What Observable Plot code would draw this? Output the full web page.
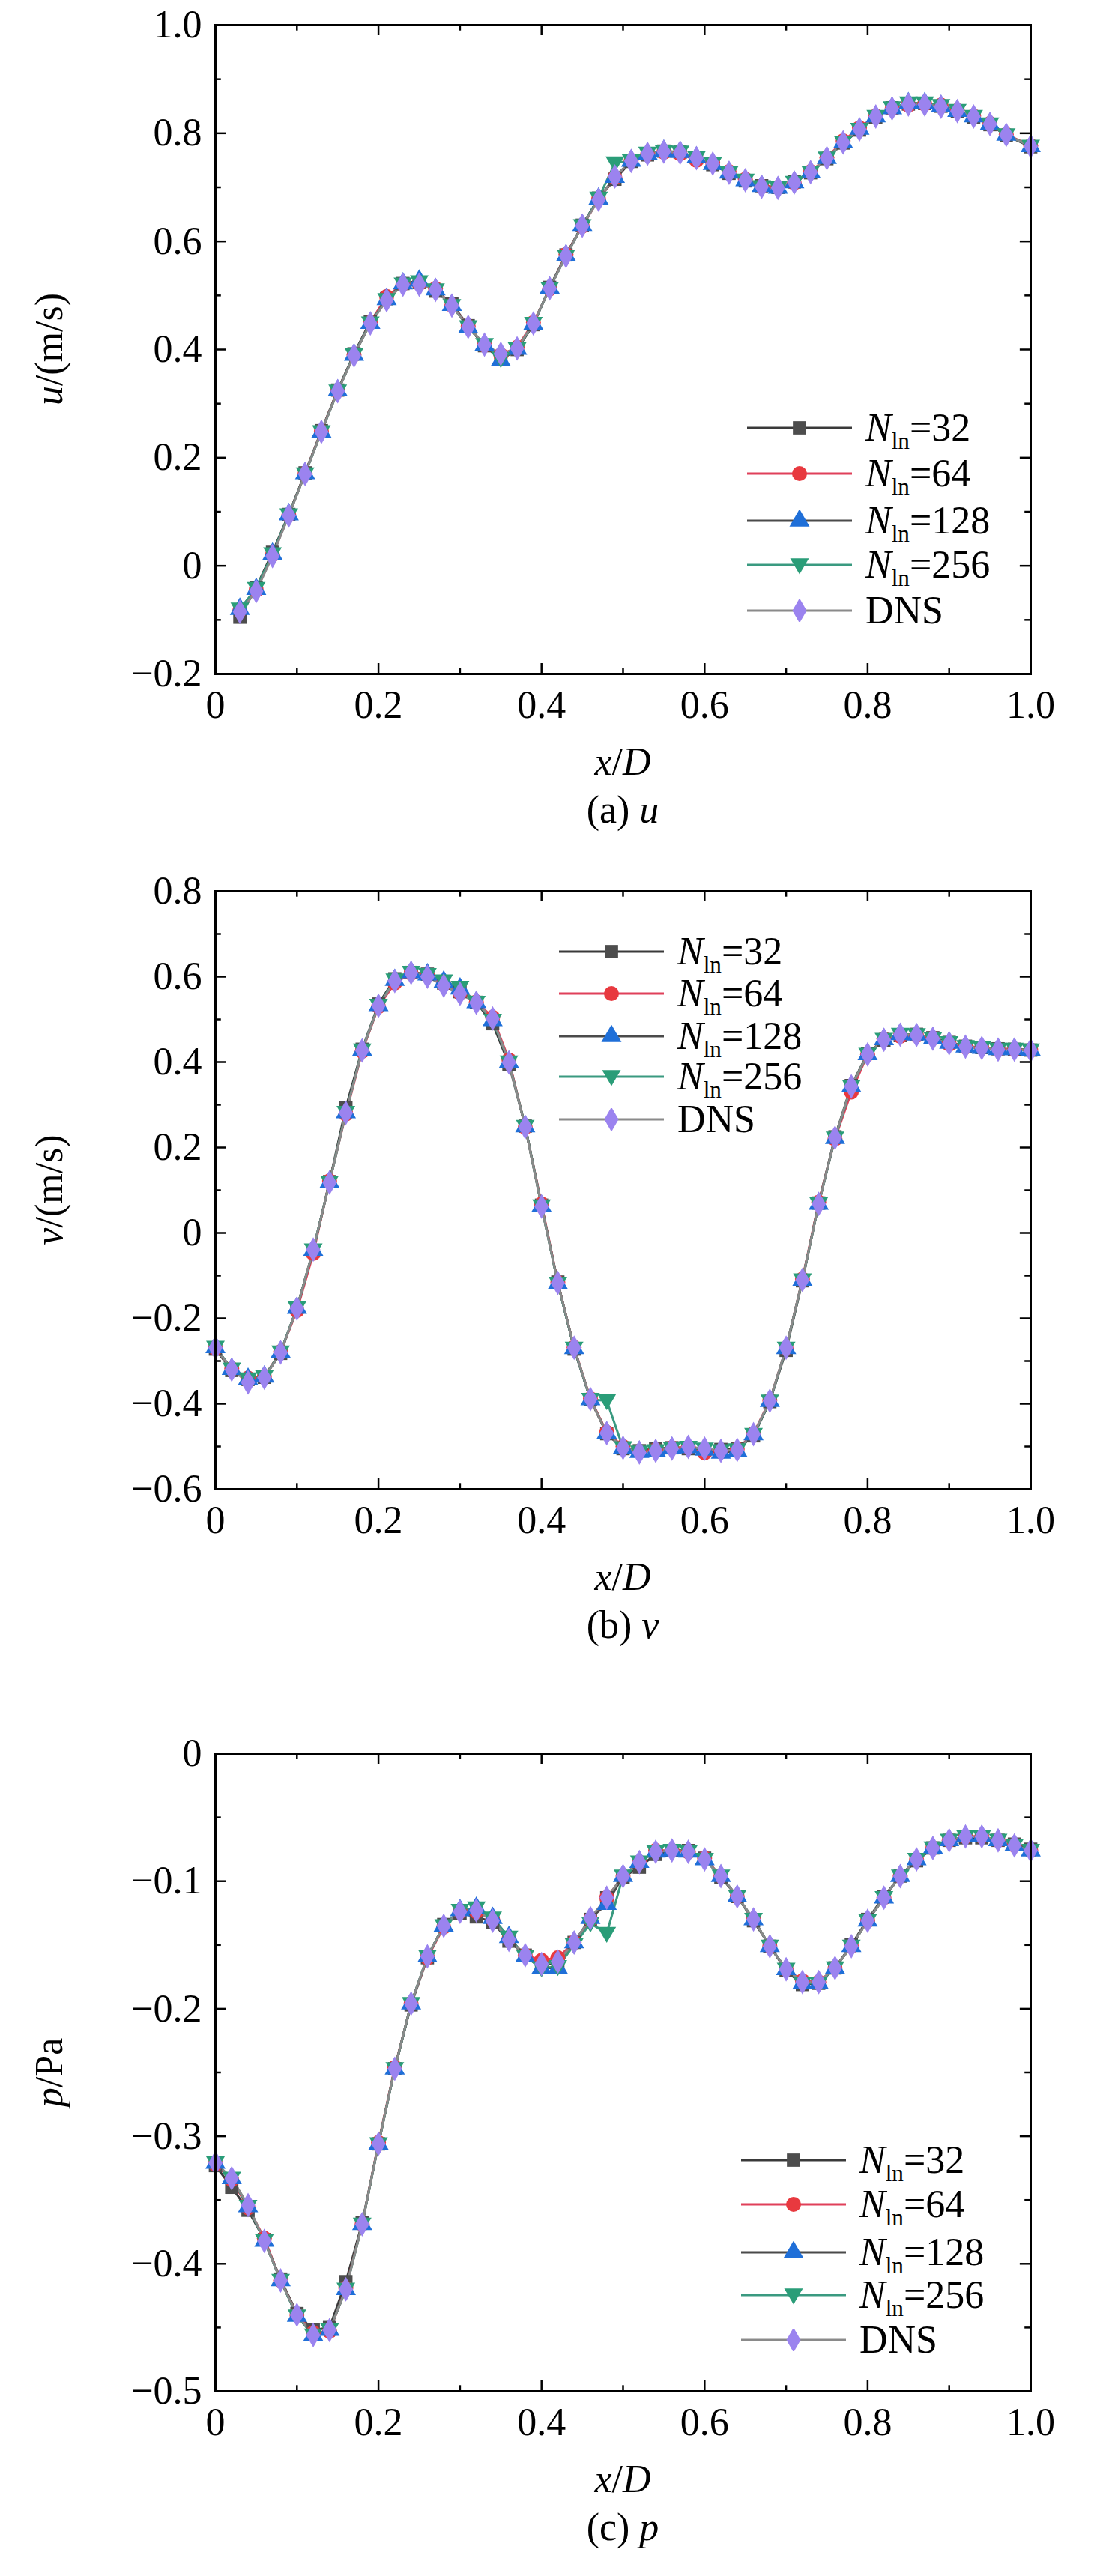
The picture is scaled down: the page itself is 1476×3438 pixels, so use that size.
<!DOCTYPE html>
<html><head><meta charset="utf-8">
<script src="https://cdn.jsdelivr.net/npm/d3@7"></script>
<script src="https://cdn.jsdelivr.net/npm/@observablehq/plot@0.6"></script>
<style>
body{margin:0;background:#fff;}
#wrap{position:relative;width:1476px;height:3438px;font-family:"Times New Roman","Liberation Serif",serif;color:#000;}
.abs{position:absolute;white-space:nowrap;line-height:1;}
.svgbox{position:absolute;left:0;}
svg text{font-family:"Times New Roman","Liberation Serif",serif !important;}
</style></head>
<body><div id="wrap"></div>
<script>
// ---------- data ----------
const seriesNames = ["N32","N64","N128","N256","DNS"];
const legendNums = ["32","64","128","256"];

const xA = [0.03,0.05,0.07,0.09,0.11,0.13,0.15,0.17,0.19,0.21,0.23,0.25,0.27,0.29,0.31,0.33,0.35,0.37,0.39,0.41,0.43,0.45,0.47,0.49,0.51,0.53,0.55,0.57,0.59,0.61,0.63,0.65,0.67,0.69,0.71,0.73,0.75,0.77,0.79,0.81,0.83,0.85,0.87,0.89,0.91,0.93,0.95,0.97,1.0];
const uDNS = [-0.085,-0.047,0.018,0.093,0.170,0.248,0.323,0.389,0.448,0.491,0.520,0.520,0.510,0.481,0.442,0.409,0.392,0.402,0.448,0.513,0.573,0.629,0.677,0.720,0.749,0.762,0.766,0.764,0.754,0.744,0.727,0.713,0.701,0.699,0.709,0.728,0.754,0.783,0.807,0.831,0.846,0.853,0.853,0.849,0.841,0.831,0.817,0.797,0.776];
const u32  = [-0.095,-0.040,0.025,0.095,0.172,0.250,0.325,0.392,0.452,0.494,0.522,0.524,0.508,0.484,0.444,0.407,0.385,0.400,0.446,0.515,0.575,0.630,0.680,0.715,0.748,0.760,0.767,0.765,0.755,0.742,0.726,0.712,0.703,0.700,0.710,0.727,0.753,0.782,0.806,0.830,0.847,0.854,0.855,0.850,0.840,0.830,0.816,0.796,0.775];
const u64  = [-0.082,-0.045,0.020,0.094,0.171,0.249,0.324,0.390,0.450,0.498,0.521,0.522,0.513,0.482,0.443,0.408,0.390,0.404,0.450,0.512,0.576,0.628,0.678,0.718,0.750,0.761,0.765,0.762,0.750,0.745,0.729,0.715,0.702,0.700,0.708,0.729,0.755,0.786,0.810,0.832,0.845,0.852,0.854,0.852,0.842,0.832,0.818,0.798,0.777];
const u128 = [-0.080,-0.043,0.022,0.095,0.171,0.248,0.324,0.390,0.449,0.493,0.522,0.527,0.511,0.482,0.441,0.408,0.380,0.401,0.447,0.514,0.574,0.630,0.679,0.719,0.749,0.762,0.767,0.765,0.755,0.743,0.727,0.713,0.702,0.699,0.709,0.728,0.754,0.783,0.808,0.831,0.846,0.855,0.855,0.850,0.841,0.831,0.817,0.797,0.776];
const u256 = [-0.080,-0.042,0.022,0.094,0.170,0.248,0.323,0.390,0.449,0.492,0.521,0.525,0.510,0.481,0.442,0.409,0.383,0.401,0.448,0.513,0.573,0.629,0.680,0.745,0.749,0.763,0.767,0.765,0.755,0.744,0.727,0.713,0.701,0.699,0.709,0.728,0.754,0.783,0.807,0.831,0.847,0.856,0.856,0.851,0.842,0.831,0.817,0.797,0.776];

const xB = [0,0.02,0.04,0.06,0.08,0.10,0.12,0.14,0.16,0.18,0.20,0.22,0.24,0.26,0.28,0.30,0.32,0.34,0.36,0.38,0.40,0.42,0.44,0.46,0.48,0.50,0.52,0.54,0.56,0.58,0.60,0.62,0.64,0.66,0.68,0.70,0.72,0.74,0.76,0.78,0.80,0.82,0.84,0.86,0.88,0.90,0.92,0.94,0.96,0.98,1.0];
const vDNS = [-0.269,-0.320,-0.350,-0.339,-0.280,-0.177,-0.039,0.118,0.281,0.427,0.532,0.590,0.609,0.600,0.579,0.560,0.539,0.502,0.399,0.248,0.062,-0.117,-0.269,-0.389,-0.469,-0.503,-0.514,-0.510,-0.505,-0.501,-0.505,-0.510,-0.508,-0.471,-0.393,-0.269,-0.110,0.068,0.223,0.343,0.418,0.452,0.464,0.463,0.455,0.444,0.436,0.433,0.429,0.429,0.427];
const v32  = [-0.272,-0.322,-0.343,-0.338,-0.282,-0.175,-0.042,0.120,0.293,0.430,0.536,0.595,0.610,0.606,0.585,0.565,0.540,0.490,0.395,0.250,0.065,-0.115,-0.272,-0.390,-0.470,-0.505,-0.510,-0.505,-0.503,-0.505,-0.510,-0.507,-0.505,-0.475,-0.395,-0.275,-0.112,0.070,0.225,0.345,0.420,0.450,0.462,0.465,0.457,0.446,0.437,0.434,0.431,0.430,0.428];
const v64  = [-0.270,-0.318,-0.340,-0.336,-0.278,-0.182,-0.048,0.122,0.278,0.425,0.530,0.585,0.608,0.604,0.583,0.562,0.541,0.505,0.405,0.247,0.068,-0.116,-0.268,-0.388,-0.467,-0.500,-0.512,-0.508,-0.503,-0.502,-0.515,-0.512,-0.506,-0.470,-0.392,-0.270,-0.108,0.072,0.220,0.330,0.418,0.455,0.460,0.462,0.456,0.442,0.435,0.434,0.430,0.429,0.428];
const v128 = [-0.268,-0.319,-0.342,-0.337,-0.279,-0.176,-0.040,0.119,0.282,0.428,0.533,0.592,0.610,0.605,0.588,0.572,0.540,0.498,0.400,0.249,0.063,-0.118,-0.270,-0.390,-0.468,-0.503,-0.513,-0.510,-0.504,-0.502,-0.508,-0.515,-0.510,-0.472,-0.394,-0.270,-0.110,0.068,0.222,0.343,0.418,0.453,0.465,0.464,0.455,0.445,0.436,0.433,0.430,0.430,0.428];
const v256 = [-0.268,-0.319,-0.342,-0.337,-0.279,-0.176,-0.040,0.119,0.282,0.428,0.533,0.592,0.610,0.605,0.590,0.575,0.540,0.498,0.400,0.249,0.063,-0.118,-0.270,-0.390,-0.393,-0.503,-0.513,-0.510,-0.504,-0.502,-0.506,-0.510,-0.508,-0.472,-0.394,-0.270,-0.110,0.068,0.222,0.343,0.418,0.453,0.465,0.464,0.455,0.445,0.436,0.433,0.430,0.430,0.428];

const xC = xB;
const pDNS = [-0.321,-0.333,-0.354,-0.382,-0.413,-0.440,-0.456,-0.452,-0.420,-0.369,-0.306,-0.247,-0.196,-0.159,-0.135,-0.124,-0.123,-0.131,-0.146,-0.158,-0.165,-0.163,-0.148,-0.129,-0.113,-0.096,-0.085,-0.077,-0.076,-0.077,-0.083,-0.096,-0.112,-0.130,-0.151,-0.169,-0.179,-0.179,-0.168,-0.151,-0.131,-0.113,-0.096,-0.083,-0.074,-0.068,-0.065,-0.065,-0.068,-0.072,-0.076];
const p32  = [-0.323,-0.340,-0.358,-0.381,-0.412,-0.439,-0.452,-0.450,-0.414,-0.368,-0.306,-0.247,-0.197,-0.160,-0.134,-0.125,-0.128,-0.132,-0.147,-0.158,-0.166,-0.164,-0.148,-0.130,-0.113,-0.097,-0.089,-0.079,-0.076,-0.076,-0.082,-0.097,-0.112,-0.131,-0.151,-0.170,-0.181,-0.180,-0.168,-0.150,-0.130,-0.112,-0.096,-0.084,-0.074,-0.068,-0.066,-0.066,-0.068,-0.071,-0.075];
const p64  = [-0.322,-0.334,-0.356,-0.380,-0.413,-0.440,-0.454,-0.453,-0.419,-0.369,-0.305,-0.246,-0.196,-0.160,-0.136,-0.124,-0.124,-0.130,-0.145,-0.158,-0.162,-0.160,-0.148,-0.130,-0.113,-0.096,-0.085,-0.076,-0.076,-0.077,-0.082,-0.096,-0.112,-0.130,-0.151,-0.169,-0.178,-0.179,-0.168,-0.151,-0.131,-0.113,-0.096,-0.083,-0.074,-0.068,-0.065,-0.065,-0.068,-0.072,-0.076];
const p128 = [-0.321,-0.333,-0.355,-0.382,-0.413,-0.441,-0.456,-0.452,-0.420,-0.369,-0.306,-0.247,-0.196,-0.159,-0.135,-0.123,-0.121,-0.129,-0.144,-0.159,-0.168,-0.168,-0.148,-0.129,-0.118,-0.096,-0.085,-0.077,-0.076,-0.077,-0.083,-0.096,-0.112,-0.130,-0.151,-0.169,-0.180,-0.180,-0.168,-0.151,-0.131,-0.113,-0.096,-0.083,-0.074,-0.068,-0.065,-0.065,-0.068,-0.072,-0.076];
const p256 = [-0.321,-0.333,-0.355,-0.382,-0.413,-0.441,-0.456,-0.452,-0.420,-0.369,-0.306,-0.247,-0.196,-0.159,-0.135,-0.123,-0.121,-0.129,-0.144,-0.159,-0.168,-0.167,-0.150,-0.133,-0.141,-0.096,-0.085,-0.077,-0.076,-0.077,-0.083,-0.096,-0.112,-0.130,-0.151,-0.169,-0.180,-0.180,-0.168,-0.151,-0.131,-0.113,-0.096,-0.083,-0.074,-0.068,-0.065,-0.065,-0.068,-0.072,-0.076];

const xTicks = [0,0.2,0.4,0.6,0.8,1.0];
const xMinor = [0.1,0.3,0.5,0.7,0.9];
const uTicks = [-0.2,0,0.2,0.4,0.6,0.8,1.0];
const vTicks = [-0.6,-0.4,-0.2,0,0.2,0.4,0.6,0.8];
const pTicks = [-0.5,-0.4,-0.3,-0.2,-0.1,0];

// ---------- styles ----------
const lineColors = {N32:"#3a3a3a",N64:"#e0405a",N128:"#4a4a4a",N256:"#3a9a80",DNS:"#8a8a8a"};
const dotColors  = {N32:"#4d4d4d",N64:"#e8393f",N128:"#1f6fd8",N256:"#2a9d78",DNS:"#9b83ef"};
const triDown = {draw(ctx,size){const s=Math.sqrt(size/Math.PI)*1.25;ctx.moveTo(-s,-s*0.7);ctx.lineTo(s,-s*0.7);ctx.lineTo(0,s*1.0);ctx.closePath();}};
const symbols = {N32:"square",N64:"circle",N128:"triangle",N256:triDown,DNS:"diamond"};

const wrap = document.getElementById("wrap");
const FONT = "'Times New Roman','Liberation Serif',serif";
const FS = 52;

function fmt(d){ if (Math.abs(d)<1e-9) return "0"; return d3.format(".1f")(d).replace("-","\u2212"); }

function rows(xs, arrs){
  const out=[];
  seriesNames.forEach((s,i)=>xs.forEach((x,j)=>out.push({s, x, y:arrs[i][j]})));
  return out;
}

function addText(html, left, top, fs){ const d=document.createElement("div"); d.className="abs"; d.innerHTML=html; d.style.left=left+"px"; d.style.top=top+"px"; d.style.fontSize=(fs||FS)+"px"; d.style.fontFamily=FONT; wrap.appendChild(d); return d; }

function panel(cfg){
  const {top, plotTop, plotBottom, xs, arrs, yDomain, yTicks, yMinor, ylabel, caption, legend} = cfg;
  const H = 1100;
  const mt = plotTop - top, mb = H - (plotBottom - top);
  const data = rows(xs, arrs);
  const [y0,y1] = yDomain;
  const tx = 0.013, ty = (y1-y0)*14/(plotBottom-plotTop), tyM = ty*0.55, txM = tx*0.55;
  const marks = [];
  marks.push(Plot.ruleX(xTicks,{x:d=>d,y1:y0,y2:y0+ty,stroke:"#000",strokeWidth:2.5}));
  marks.push(Plot.ruleX(xTicks,{x:d=>d,y1:y1,y2:y1-ty,stroke:"#000",strokeWidth:2.5}));
  marks.push(Plot.ruleX(xMinor,{x:d=>d,y1:y0,y2:y0+tyM,stroke:"#000",strokeWidth:2.5}));
  marks.push(Plot.ruleX(xMinor,{x:d=>d,y1:y1,y2:y1-tyM,stroke:"#000",strokeWidth:2.5}));
  marks.push(Plot.ruleY(yTicks,{y:d=>d,x1:0,x2:tx,stroke:"#000",strokeWidth:2.5}));
  marks.push(Plot.ruleY(yTicks,{y:d=>d,x1:1,x2:1-tx,stroke:"#000",strokeWidth:2.5}));
  marks.push(Plot.ruleY(yMinor,{y:d=>d,x1:0,x2:txM,stroke:"#000",strokeWidth:2.5}));
  marks.push(Plot.ruleY(yMinor,{y:d=>d,x1:1,x2:1-txM,stroke:"#000",strokeWidth:2.5}));
  marks.push(Plot.axisX({ticks:xTicks,tickSize:0,tickPadding:22,tickFormat:fmt,fontSize:FS,fontFamily:FONT}));
  marks.push(Plot.axisY({ticks:yTicks,tickSize:0,tickPadding:18,tickFormat:fmt,fontSize:FS,fontFamily:FONT}));
  seriesNames.forEach(s=>marks.push(Plot.line(data.filter(d=>d.s===s),{x:"x",y:"y",stroke:lineColors[s],strokeWidth:3})));
  seriesNames.forEach(s=>marks.push(Plot.dot(data.filter(d=>d.s===s),{x:"x",y:"y",symbol:()=>symbols[s],fill:dotColors[s],stroke:"none",r:10})));
  marks.push(Plot.frame({stroke:"#000",strokeWidth:3}));
  const svg = Plot.plot({
    width:1476, height:H, marginLeft:287, marginRight:101, marginTop:mt, marginBottom:mb,
    x:{domain:[0,1],label:null}, y:{domain:yDomain,label:null},
    symbol:{type:"identity"},
    style:{fontFamily:FONT,fontSize:FS+"px",background:"transparent",color:"#000"},
    marks
  });
  const box=document.createElement("div"); box.className="svgbox"; box.style.top=top+"px"; box.appendChild(svg); wrap.appendChild(box);
  const xl = addText("<i>x</i>/<i>D</i>", 831, plotBottom+92); xl.style.transform="translateX(-50%)";
  const yl = addText(ylabel, 66, (plotTop+plotBottom)/2); yl.style.transform="translate(-50%,-50%) rotate(-90deg)";
  const cp = addText(caption, 831, plotBottom+156); cp.style.transform="translateX(-50%)";
  ["N32","N64","N128","N256","DNS"].forEach((s,i)=>{
    const y = legend.ys[i];
    const sw = document.createElementNS("http://www.w3.org/2000/svg","svg");
    sw.setAttribute("width",150); sw.setAttribute("height",30);
    sw.style.position="absolute"; sw.style.left=legend.x+"px"; sw.style.top=(y-15)+"px";
    d3.select(sw).append("line").attr("x1",0).attr("x2",140).attr("y1",15).attr("y2",15).attr("stroke",lineColors[s]).attr("stroke-width",3);
    const sym = typeof symbols[s]==="string" ? ({square:d3.symbolSquare,circle:d3.symbolCircle,triangle:d3.symbolTriangle,diamond:d3.symbolDiamond})[symbols[s]] : symbols[s];
    d3.select(sw).append("path").attr("transform","translate(70,15)").attr("d",d3.symbol(sym, Math.PI*100)()).attr("fill",dotColors[s]);
    wrap.appendChild(sw);
    const lab = i<4 ? `<i>N</i><span style="font-size:0.6em;position:relative;top:0.35em">ln</span>=${legendNums[i]}` : "DNS";
    const t = addText(lab, legend.x+158, y, 52); t.style.transform="translateY(-50%)";
  });
}

panel({top:0, plotTop:33, plotBottom:899, xs:xA, arrs:[u32,u64,u128,u256,uDNS], yDomain:[-0.2,1.0], yTicks:uTicks, yMinor:[-0.1,0.1,0.3,0.5,0.7,0.9],
  ylabel:"<i>u</i>/(m/s)", caption:"(a) <i>u</i>", legend:{x:997, ys:[571,632,695,754,815]}});
panel({top:1150, plotTop:1189, plotBottom:1987, xs:xB, arrs:[v32,v64,v128,v256,vDNS], yDomain:[-0.6,0.8], yTicks:vTicks, yMinor:[-0.5,-0.3,-0.1,0.1,0.3,0.5,0.7],
  ylabel:"<i>v</i>/(m/s)", caption:"(b) <i>v</i>", legend:{x:746, ys:[1270,1326,1383,1437,1494]}});
panel({top:2300, plotTop:2340, plotBottom:3191, xs:xC, arrs:[p32,p64,p128,p256,pDNS], yDomain:[-0.5,0], yTicks:pTicks, yMinor:[-0.45,-0.35,-0.25,-0.15,-0.05],
  ylabel:"<i>p</i>/Pa", caption:"(c) <i>p</i>", legend:{x:989, ys:[2883,2942,3006,3063,3123]}});
</script></body></html>
